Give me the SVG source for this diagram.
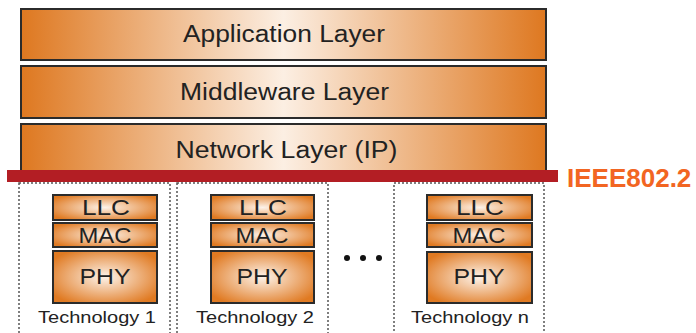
<svg xmlns="http://www.w3.org/2000/svg" width="696" height="333" viewBox="0 0 696 333">
<defs>
<linearGradient id="lg" x1="0" y1="0" x2="1" y2="0">
<stop offset="0" stop-color="#de7820"/>
<stop offset="0.5" stop-color="#fcefe3"/>
<stop offset="1" stop-color="#de7820"/>
</linearGradient>
<radialGradient id="rg" cx="0.5" cy="0.5" r="0.6">
<stop offset="0" stop-color="#fdf3ea"/>
<stop offset="1" stop-color="#e07a22"/>
</radialGradient>
<style>
.layer{fill:url(#lg);stroke:#2b2b2b;stroke-width:2}
.sub{fill:url(#rg);stroke:#2b2b2b;stroke-width:2}
.tech{fill:none;stroke:#555;stroke-width:1.5;stroke-dasharray:2 2}
.t{font-family:"Liberation Sans",Arial,sans-serif;fill:#222;text-anchor:middle}
.big{font-size:23.5px}
.sm{font-size:22px}
.lab{font-size:16.5px}
</style>
</defs>
<g id="application">
<rect class="layer" x="21" y="9" width="525" height="51"/>
<text class="t big" x="284" y="42" textLength="202" lengthAdjust="spacingAndGlyphs">Application Layer</text>
</g>
<g id="middleware">
<rect class="layer" x="21" y="66" width="525" height="52"/>
<text class="t big" x="284.5" y="100" textLength="209" lengthAdjust="spacingAndGlyphs">Middleware Layer</text>
</g>
<g id="network">
<rect class="layer" x="21" y="124" width="525" height="50"/>
<text class="t big" x="286.5" y="158" textLength="222" lengthAdjust="spacingAndGlyphs">Network Layer (IP)</text>
</g>
<g id="ieee">
<rect x="7" y="170" width="551" height="12" fill="#b31e24"/>
<text x="567" y="187" font-family="'Liberation Sans',Arial,sans-serif" font-size="26" font-weight="bold" fill="#f26522">IEEE802.2</text>
</g>
<g id="tech1">
<rect class="tech" x="19" y="183" width="151" height="160"/>
<rect class="sub" x="53" y="195" width="104" height="25"/>
<text class="t sm" x="106" y="215" textLength="48" lengthAdjust="spacingAndGlyphs">LLC</text>
<rect class="sub" x="53" y="223" width="104" height="24"/>
<text class="t sm" x="105" y="243" textLength="53" lengthAdjust="spacingAndGlyphs">MAC</text>
<rect class="sub" x="53" y="251" width="104" height="52"/>
<text class="t sm" x="105" y="284" textLength="51" lengthAdjust="spacingAndGlyphs">PHY</text>
<text class="t lab" x="97" y="323" textLength="118" lengthAdjust="spacingAndGlyphs">Technology 1</text>
</g>
<g id="tech2">
<rect class="tech" x="177" y="183" width="151" height="160"/>
<rect class="sub" x="211" y="195" width="103" height="25"/>
<text class="t sm" x="263" y="215" textLength="48" lengthAdjust="spacingAndGlyphs">LLC</text>
<rect class="sub" x="211" y="223" width="103" height="24"/>
<text class="t sm" x="262" y="243" textLength="53" lengthAdjust="spacingAndGlyphs">MAC</text>
<rect class="sub" x="211" y="251" width="103" height="52"/>
<text class="t sm" x="262" y="284" textLength="51" lengthAdjust="spacingAndGlyphs">PHY</text>
<text class="t lab" x="255" y="323" textLength="118" lengthAdjust="spacingAndGlyphs">Technology 2</text>
</g>
<g id="dots" fill="#111">
<circle cx="347" cy="258" r="3"/>
<circle cx="363" cy="258" r="3"/>
<circle cx="379" cy="258" r="3"/>
</g>
<g id="techn">
<rect class="tech" x="394" y="183" width="150" height="160"/>
<rect class="sub" x="427" y="195" width="105" height="25"/>
<text class="t sm" x="480" y="215" textLength="48" lengthAdjust="spacingAndGlyphs">LLC</text>
<rect class="sub" x="427" y="223" width="105" height="24"/>
<text class="t sm" x="479" y="243" textLength="53" lengthAdjust="spacingAndGlyphs">MAC</text>
<rect class="sub" x="427" y="252" width="105" height="51"/>
<text class="t sm" x="479" y="284" textLength="51" lengthAdjust="spacingAndGlyphs">PHY</text>
<text class="t lab" x="470" y="323" textLength="118" lengthAdjust="spacingAndGlyphs">Technology n</text>
</g>
<g id="connectors"></g>
</svg>
